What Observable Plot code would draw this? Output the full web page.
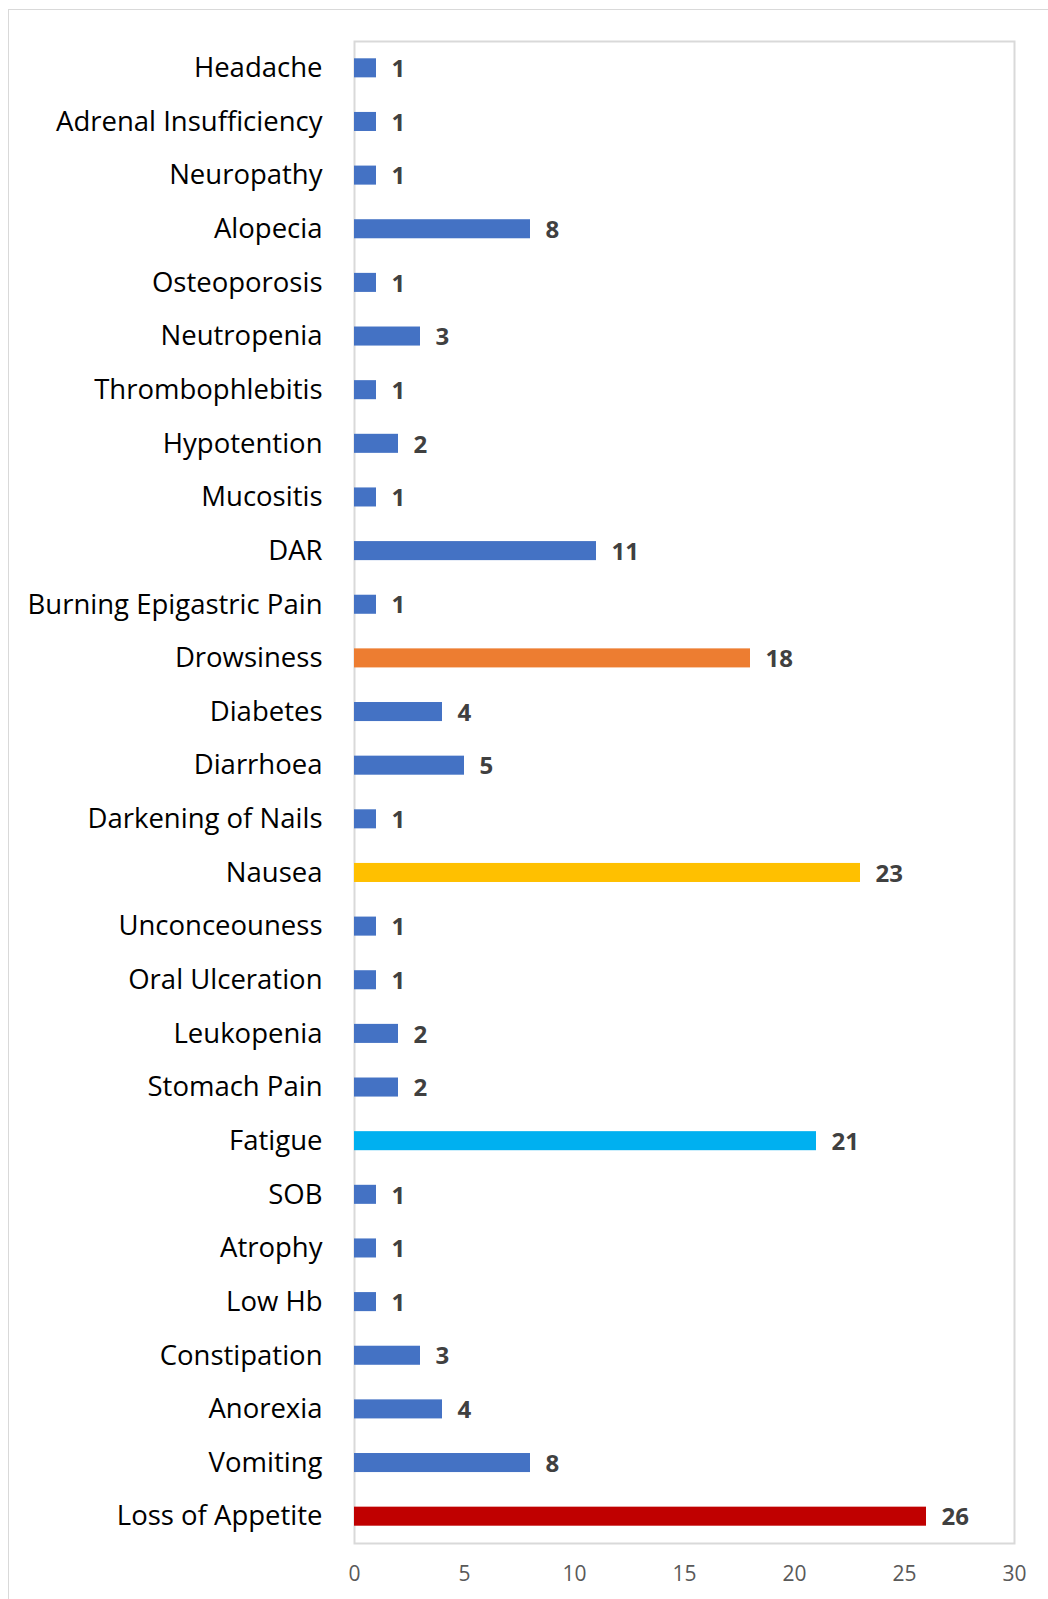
<!DOCTYPE html>
<html>
<head>
<meta charset="utf-8">
<script src="https://cdn.jsdelivr.net/npm/d3@7"></script>
<script src="https://cdn.jsdelivr.net/npm/@observablehq/plot@0.6"></script>
<style>
  html, body { margin: 0; padding: 0; background: #fff; }
  #wrap { position: relative; width: 1048px; height: 1599px; overflow: hidden; }
  #border { position: absolute; left: 8px; top: 9px; width: 1100px; height: 1700px;
            border-left: 1.5px solid #d9d9d9; border-top: 1.5px solid #d9d9d9; }
  #chart { position: absolute; left: 0; top: 0; }
</style>
</head>
<body>
<div id="wrap"><div id="border"></div><div id="chart"></div></div>
<script>
const categories = ["Headache","Adrenal Insufficiency","Neuropathy","Alopecia","Osteoporosis","Neutropenia","Thrombophlebitis","Hypotention","Mucositis","DAR","Burning Epigastric Pain","Drowsiness","Diabetes","Diarrhoea","Darkening of Nails","Nausea","Unconceouness","Oral Ulceration","Leukopenia","Stomach Pain","Fatigue","SOB","Atrophy","Low Hb","Constipation","Anorexia","Vomiting","Loss of Appetite"];
const counts = [1,1,1,8,1,3,1,2,1,11,1,18,4,5,1,23,1,1,2,2,21,1,1,1,3,4,8,26];
const xTicks = [0,5,10,15,20,25,30];

const highlightColors = {"Drowsiness":"#ED7D31","Nausea":"#FFC000","Fatigue":"#00B0F0","Loss of Appetite":"#C00000"};
const baseColor = "#4472C4";

const data = categories.map((c, i) => ({category: c, count: counts[i]}));

const chart = Plot.plot({
  width: 1048,
  height: 1599,
  marginLeft: 354,
  marginRight: 34,
  marginTop: 41,
  marginBottom: 56,
  style: {fontFamily: "'Open Sans', sans-serif", background: "transparent"},
  x: {domain: [0, 30], ticks: xTicks, label: null},
  y: {domain: categories, label: null, paddingInner: 0.645, paddingOuter: 0.3225, round: false},
  marks: [
    Plot.frame({stroke: "#d9d9d9", strokeWidth: 2}),
    Plot.barX(data, {y: "category", x: "count", fill: d => highlightColors[d.category] || baseColor}),
    Plot.text(data, {y: "category", x: "count", text: d => String(d.count), dx: 15, dy: 1, textAnchor: "start", fontWeight: "bold", fill: "#404040", fontSize: 24}),
    Plot.axisX({ticks: xTicks, tickSize: 0, tickPadding: 23, fontSize: 21, color: "#595959", label: null}),
    Plot.axisY({tickSize: 0, tickPadding: 32, fontSize: 27.5, color: "#000", label: null})
  ]
});
document.getElementById("chart").appendChild(chart);
</script>
</body>
</html>
